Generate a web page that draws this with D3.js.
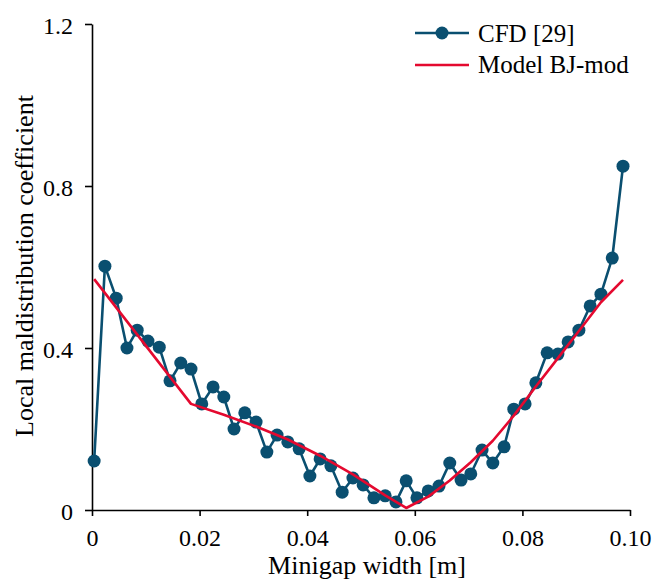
<!DOCTYPE html>
<html>
<head>
<meta charset="utf-8">
<script src="https://cdn.jsdelivr.net/npm/d3@7"></script>
<style>
  body { margin: 0; background: #fff; }
  text { font-family: "Liberation Serif", "DejaVu Serif", serif; fill: #000; }
</style>
</head>
<body>
<div id="Canvas"></div>
<script>
// CFD [29] 資料 (minigap width, coefficient)
const cfdX = [0.0004, 0.0024, 0.0045, 0.0065, 0.0084, 0.0104, 0.0125, 0.0145, 0.0165, 0.0184,
              0.0204, 0.0225, 0.0245, 0.0264, 0.0284, 0.0305, 0.0325, 0.0344, 0.0364, 0.0385,
              0.0405, 0.0424, 0.0444, 0.0465, 0.0485, 0.0504, 0.0524, 0.0545, 0.0565, 0.0584,
              0.0604, 0.0625, 0.0645, 0.0665, 0.0686, 0.0704, 0.0725, 0.0745, 0.0766, 0.0784,
              0.0805, 0.0825, 0.0846, 0.0866, 0.0885, 0.0905, 0.0926, 0.0946, 0.0967, 0.0987]
const cfdY = [0.121, 0.602, 0.523, 0.400, 0.444, 0.417, 0.402, 0.319, 0.363, 0.348,
              0.262, 0.304, 0.279, 0.200, 0.240, 0.217, 0.143, 0.185, 0.168, 0.151,
              0.084, 0.126, 0.109, 0.044, 0.079, 0.062, 0.030, 0.035, 0.020, 0.072,
              0.030, 0.047, 0.059, 0.116, 0.074, 0.089, 0.148, 0.116, 0.156, 0.249,
              0.262, 0.314, 0.388, 0.385, 0.415, 0.444, 0.504, 0.533, 0.622, 0.849]
// Model BJ-mod
const modelX = [0.0004, 0.0184, 0.0245, 0.0305, 0.0364, 0.0424, 0.0485, 0.0545, 0.0584,
                0.0625, 0.0665, 0.0704, 0.0745, 0.0784, 0.0825, 0.0866, 0.0905, 0.0946, 0.0987]
const modelY = [0.570, 0.262, 0.235, 0.206, 0.174, 0.134, 0.088, 0.036, 0.005,
                0.033, 0.073, 0.118, 0.171, 0.233, 0.305, 0.375, 0.442, 0.513, 0.568]
const xTicks = [0, 0.02, 0.04, 0.06, 0.08, 0.10]
const xTickLabels = ["0", "0.02", "0.04", "0.06", "0.08", "0.10"]
const yTicks = [0, 0.4, 0.8, 1.2]
const yTickLabels = ["0", "0.4", "0.8", "1.2"]
const legendNames = ["CFD [29]", "Model BJ-mod"]

const blue = "#0a4f70"
const red = "#e4092f"

let svg = d3.select("#Canvas")
    .append("svg")
    .attr("width", 654)
    .attr("height", 581)

let xScale = d3.scaleLinear().domain([0, 0.1]).range([92, 630])
let yScale = d3.scaleLinear().domain([0, 1.2]).range([510, 24])

// 軸
let xAxis = d3.axisBottom(xScale).tickValues(xTicks)
    .tickFormat((d, i) => xTickLabels[i]).tickSizeInner(6).tickSizeOuter(0)
let yAxis = d3.axisLeft(yScale).tickValues(yTicks)
    .tickFormat((d, i) => yTickLabels[i]).tickSizeInner(7).tickSizeOuter(0).tickPadding(12)

let gx = svg.append("g").attr("transform", "translate(0,510)").call(xAxis)
let gy = svg.append("g").attr("transform", "translate(92,0)").call(yAxis)
;[gx, gy].forEach(g => {
    g.select(".domain").attr("stroke", "#000").attr("stroke-width", 1.6)
    g.selectAll(".tick line").attr("stroke", "#000").attr("stroke-width", 1.6)
    g.selectAll(".tick text").attr("font-family", "Liberation Serif").attr("font-size", 24).attr("fill", "#000")
})
//x 刻度文字直接放基線
gx.selectAll(".tick text").attr("y", 36).attr("dy", 0)
gy.selectAll(".tick text").attr("dy", "0.38em")

svg.append("text")
    .attr("x", 367).attr("y", 574)
    .attr("text-anchor", "middle").attr("font-size", 26)
    .text("Minigap width [m]")
svg.append("text")
    .attr("transform", "translate(33,266) rotate(-90)")
    .attr("text-anchor", "middle").attr("font-size", 26)
    .text("Local maldistribution coefficient")

// CFD 線 + 點
let cfd = cfdX.map((x, i) => ({x: x, y: cfdY[i]}))
let model = modelX.map((x, i) => ({x: x, y: modelY[i]}))
let line = d3.line().x(d => xScale(d.x)).y(d => yScale(d.y))

svg.append("path").datum(cfd)
    .attr("d", line).attr("fill", "none")
    .attr("stroke", blue).attr("stroke-width", 2.6)
svg.append("g").selectAll("circle")
    .data(cfd).enter()
    .append("circle")
    .attr("cx", d => xScale(d.x)).attr("cy", d => yScale(d.y))
    .attr("r", 6.5).attr("fill", blue)

svg.append("path").datum(model)
    .attr("d", line)
    .attr("fill", "none").attr("stroke", red).attr("stroke-width", 2.6)
    .attr("stroke-linejoin", "round")

// 圖例
let legend = svg.append("g")
legend.append("line").attr("x1", 415).attr("x2", 469).attr("y1", 33).attr("y2", 33)
    .attr("stroke", blue).attr("stroke-width", 2.6)
legend.append("circle").attr("cx", 442).attr("cy", 33).attr("r", 6.5).attr("fill", blue)
legend.append("line").attr("x1", 415).attr("x2", 469).attr("y1", 65).attr("y2", 65)
    .attr("stroke", red).attr("stroke-width", 2.6)
legend.selectAll("text").data(legendNames).enter()
    .append("text")
    .attr("x", 478).attr("y", (d, i) => 42 + i * 31)
    .attr("font-size", 25)
    .text(d => d)
</script>
</body>
</html>
